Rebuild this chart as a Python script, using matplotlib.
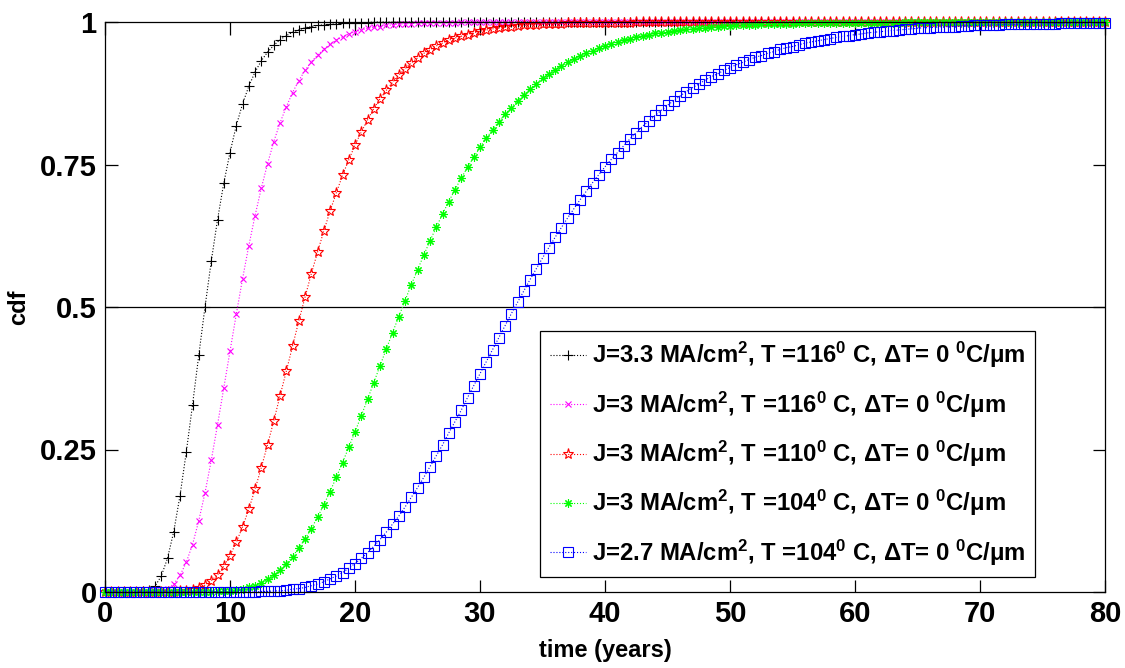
import numpy as np
import matplotlib.pyplot as plt

# time axis, half-year samples 0..80
years = np.arange(0, 80.5, 0.5)

# cdf values (10 per row = 5 years per row)
cdf_j33_t116 = [
    0, 0, 0, 0, 0, 0, 0.001, 0.003, 0.010, 0.028,                       # 0
    0.059, 0.106, 0.169, 0.245, 0.328, 0.415, 0.5, 0.580, 0.653, 0.717,  # 5
    0.771, 0.818, 0.856, 0.887, 0.912, 0.932, 0.947, 0.959, 0.969, 0.976,  # 10
    0.982, 0.986, 0.990, 0.992, 0.994, 0.995, 0.996, 0.997, 0.998, 0.998,  # 15
    0.999, 0.999, 0.999, 1, 1, 1, 1, 1, 1, 1,                   # 20
    1, 1, 1, 1, 1, 1, 1, 1, 1, 1,                               # 25
    1, 1, 1, 1, 1, 1, 1, 1, 1, 1,                               # 30
    1, 1, 1, 1, 1, 1, 1, 1, 1, 1,                               # 35
    1, 1, 1, 1, 1, 1, 1, 1, 1, 1,                               # 40
    1, 1, 1, 1, 1, 1, 1, 1, 1, 1,                               # 45
    1, 1, 1, 1, 1, 1, 1, 1, 1, 1,                               # 50
    1, 1, 1, 1, 1, 1, 1, 1, 1, 1,                               # 55
    1, 1, 1, 1, 1, 1, 1, 1, 1, 1,                               # 60
    1, 1, 1, 1, 1, 1, 1, 1, 1, 1,                               # 65
    1, 1, 1, 1, 1, 1, 1, 1, 1, 1,                               # 70
    1, 1, 1, 1, 1, 1, 1, 1, 1, 1,                               # 75
    1]

cdf_j3_t116 = [
    0, 0, 0, 0, 0, 0, 0, 0, 0.001, 0.002,                                # 0
    0.006, 0.014, 0.029, 0.052, 0.083, 0.125, 0.174, 0.231, 0.293, 0.358,  # 5
    0.423, 0.487, 0.549, 0.607, 0.660, 0.708, 0.751, 0.790, 0.823, 0.851,  # 10
    0.876, 0.897, 0.915, 0.930, 0.942, 0.952, 0.961, 0.968, 0.974, 0.979,  # 15
    0.983, 0.986, 0.989, 0.991, 0.992, 0.994, 0.995, 0.996, 0.997, 0.997,  # 20
    0.998, 0.998, 0.999, 0.999, 0.999, 0.999, 0.999, 1, 1, 1,     # 25
    1, 1, 1, 1, 1, 1, 1, 1, 1, 1,                               # 30
    1, 1, 1, 1, 1, 1, 1, 1, 1, 1,                               # 35
    1, 1, 1, 1, 1, 1, 1, 1, 1, 1,                               # 40
    1, 1, 1, 1, 1, 1, 1, 1, 1, 1,                               # 45
    1, 1, 1, 1, 1, 1, 1, 1, 1, 1,                               # 50
    1, 1, 1, 1, 1, 1, 1, 1, 1, 1,                               # 55
    1, 1, 1, 1, 1, 1, 1, 1, 1, 1,                               # 60
    1, 1, 1, 1, 1, 1, 1, 1, 1, 1,                               # 65
    1, 1, 1, 1, 1, 1, 1, 1, 1, 1,                               # 70
    1, 1, 1, 1, 1, 1, 1, 1, 1, 1,                               # 75
    1]

cdf_j3_t110 = [
    0, 0, 0, 0, 0, 0, 0, 0, 0, 0,                               # 0
    0, 0, 0.001, 0.002, 0.003, 0.007, 0.012, 0.020, 0.030, 0.045,        # 5
    0.064, 0.087, 0.114, 0.145, 0.180, 0.218, 0.258, 0.300, 0.344, 0.387,  # 10
    0.431, 0.475, 0.517, 0.558, 0.596, 0.633, 0.668, 0.700, 0.731, 0.758,  # 15
    0.784, 0.807, 0.828, 0.848, 0.865, 0.880, 0.894, 0.907, 0.918, 0.928,  # 20
    0.937, 0.945, 0.951, 0.958, 0.963, 0.968, 0.972, 0.975, 0.978, 0.981,  # 25
    0.984, 0.986, 0.988, 0.989, 0.991, 0.992, 0.993, 0.994, 0.995, 0.995,  # 30
    0.996, 0.996, 0.997, 0.997, 0.998, 0.998, 0.998, 0.999, 0.999, 0.999,  # 35
    0.999, 0.999, 0.999, 0.999, 0.999, 1, 1, 1, 1, 1,           # 40
    1, 1, 1, 1, 1, 1, 1, 1, 1, 1,                               # 45
    1, 1, 1, 1, 1, 1, 1, 1, 1, 1,                               # 50
    1, 1, 1, 1, 1, 1, 1, 1, 1, 1,                               # 55
    1, 1, 1, 1, 1, 1, 1, 1, 1, 1,                               # 60
    1, 1, 1, 1, 1, 1, 1, 1, 1, 1,                               # 65
    1, 1, 1, 1, 1, 1, 1, 1, 1, 1,                               # 70
    1, 1, 1, 1, 1, 1, 1, 1, 1, 1,                               # 75
    1]

cdf_j3_t104 = [
    0, 0, 0, 0, 0, 0, 0, 0, 0, 0,                               # 0
    0, 0, 0, 0, 0, 0, 0, 0, 0.001, 0.001,                       # 5
    0.002, 0.003, 0.005, 0.008, 0.011, 0.016, 0.022, 0.029, 0.039, 0.050,  # 10
    0.062, 0.077, 0.093, 0.111, 0.131, 0.153, 0.176, 0.201, 0.227, 0.254,  # 15
    0.281, 0.309, 0.338, 0.367, 0.397, 0.426, 0.455, 0.483, 0.511, 0.539,  # 20
    0.565, 0.591, 0.616, 0.640, 0.663, 0.685, 0.706, 0.726, 0.745, 0.763,  # 25
    0.780, 0.796, 0.811, 0.825, 0.838, 0.850, 0.862, 0.872, 0.883, 0.892,  # 30
    0.901, 0.909, 0.916, 0.923, 0.929, 0.935, 0.940, 0.946, 0.950, 0.954,  # 35
    0.958, 0.962, 0.965, 0.968, 0.971, 0.973, 0.976, 0.978, 0.980, 0.981,  # 40
    0.983, 0.985, 0.986, 0.987, 0.988, 0.989, 0.990, 0.991, 0.992, 0.993,  # 45
    0.993, 0.994, 0.994, 0.995, 0.995, 0.996, 0.996, 0.996, 0.997, 0.997,  # 50
    0.997, 0.998, 0.998, 0.998, 0.998, 0.998, 0.999, 0.999, 0.999, 0.999,  # 55
    0.999, 0.999, 0.999, 0.999, 0.999, 0.999, 0.999, 0.999, 1, 1,        # 60
    1, 1, 1, 1, 1, 1, 1, 1, 1, 1,                               # 65
    1, 1, 1, 1, 1, 1, 1, 1, 1, 1,                               # 70
    1, 1, 1, 1, 1, 1, 1, 1, 1, 1,                               # 75
    1]

cdf_j27_t104 = [
    0, 0, 0, 0, 0, 0, 0, 0, 0, 0,                               # 0
    0, 0, 0, 0, 0, 0, 0, 0, 0, 0,                               # 5
    0, 0, 0, 0, 0, 0.001, 0.001, 0.002, 0.002, 0.003,                    # 10
    0.005, 0.006, 0.008, 0.011, 0.014, 0.018, 0.023, 0.028, 0.034, 0.042,  # 15
    0.050, 0.059, 0.069, 0.080, 0.092, 0.105, 0.119, 0.133, 0.149, 0.166,  # 20
    0.183, 0.201, 0.220, 0.239, 0.258, 0.279, 0.299, 0.319, 0.341, 0.362,  # 25
    0.383, 0.404, 0.425, 0.446, 0.467, 0.488, 0.508, 0.528, 0.548, 0.567,  # 30
    0.586, 0.604, 0.622, 0.639, 0.656, 0.672, 0.688, 0.703, 0.718, 0.732,  # 35
    0.746, 0.759, 0.771, 0.783, 0.795, 0.806, 0.817, 0.826, 0.836, 0.845,  # 40
    0.854, 0.862, 0.870, 0.878, 0.885, 0.891, 0.898, 0.904, 0.909, 0.915,  # 45
    0.920, 0.925, 0.929, 0.934, 0.938, 0.941, 0.945, 0.948, 0.952, 0.955,  # 50
    0.957, 0.960, 0.963, 0.965, 0.967, 0.969, 0.971, 0.973, 0.975, 0.976,  # 55
    0.978, 0.979, 0.981, 0.982, 0.983, 0.984, 0.985, 0.986, 0.987, 0.988,  # 60
    0.989, 0.990, 0.990, 0.991, 0.991, 0.992, 0.992, 0.993, 0.993, 0.994,  # 65
    0.994, 0.995, 0.995, 0.995, 0.996, 0.996, 0.996, 0.996, 0.997, 0.997,  # 70
    0.997, 0.997, 0.997, 0.998, 0.998, 0.998, 0.998, 0.998, 0.998, 0.998,  # 75
    0.999]

labels = [
    'J=3.3 MA/cm$^{2}$, T =116$^{0}$ C, \u0394T= 0 $^{0}$C/\u03bcm',
    'J=3 MA/cm$^{2}$, T =116$^{0}$ C, \u0394T= 0 $^{0}$C/\u03bcm',
    'J=3 MA/cm$^{2}$, T =110$^{0}$ C, \u0394T= 0 $^{0}$C/\u03bcm',
    'J=3 MA/cm$^{2}$, T =104$^{0}$ C, \u0394T= 0 $^{0}$C/\u03bcm',
    'J=2.7 MA/cm$^{2}$, T =104$^{0}$ C, \u0394T= 0 $^{0}$C/\u03bcm',
]
series = [cdf_j33_t116, cdf_j3_t116, cdf_j3_t110, cdf_j3_t104, cdf_j27_t104]
colors = ['black', '#ff00ff', '#ff0000', '#00ff00', '#0000ff']
markers = ['+', 'x', '*', (8, 2, 0), 's']
msizes = [7, 5, 8, 6, 6.5]
xticks = [0, 10, 20, 30, 40, 50, 60, 70, 80]
yticks = [0, 0.25, 0.5, 0.75, 1]
yticklabels = ['0', '0.25', '0.5', '0.75', '1']

plt.rcParams['font.family'] = ['Liberation Sans', 'DejaVu Sans']
plt.rcParams['font.weight'] = 'bold'
plt.rcParams['mathtext.default'] = 'regular'

fig = plt.figure(figsize=(11.25, 6.68), dpi=100)
ax = fig.add_axes([105 / 1125, 76 / 668, 1000 / 1125, 570 / 668])

for vals, lab, c, m, ms in zip(series, labels, colors, markers, msizes):
    assert len(vals) == len(years)
    face = 'none' if m in ('*', 's') else c
    ax.plot(years, vals, linestyle=':', linewidth=0.8, color=c, marker=m,
            markersize=ms, markerfacecolor=face, markeredgewidth=0.8,
            label=lab, clip_on=False)

ax.axhline(0.5, color='black', linewidth=0.9, zorder=1)

ax.set_xlim(0, 80)
ax.set_ylim(0, 1)
ax.set_xticks(xticks)
ax.set_yticks(yticks)
ax.set_yticklabels(yticklabels)
ax.tick_params(direction='in', top=True, right=True, length=9, width=0.9,
               labelsize=21, pad=6)
for s in ax.spines.values():
    s.set_linewidth(0.9)

ax.set_xlabel('time (years)', fontsize=17, fontweight='bold')
ax.set_ylabel('cdf', fontsize=17, fontweight='bold')
ax.xaxis.set_label_coords(0.5, -0.083)
ax.yaxis.set_label_coords(-0.075, 0.5)

leg = ax.legend(loc='lower right', bbox_to_anchor=(0.93, 0.026), fontsize=17.2,
                numpoints=1, handlelength=1.5, handletextpad=0.25,
                labelspacing=0.8, borderpad=0.4, borderaxespad=0,
                fancybox=False, edgecolor='black', framealpha=1)
leg.get_frame().set_linewidth(0.9)

fig.savefig('out.png', dpi=100)
